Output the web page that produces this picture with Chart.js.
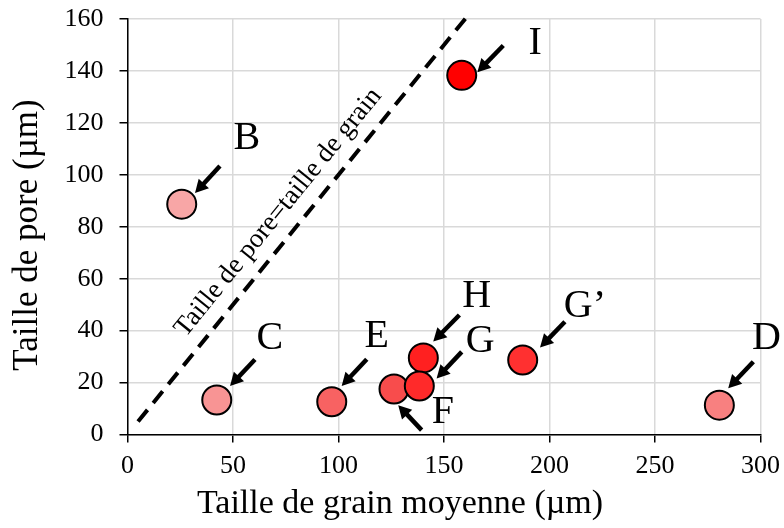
<!DOCTYPE html>
<html>
<head>
<meta charset="utf-8">
<script src="https://cdn.jsdelivr.net/npm/chart.js@4"></script>
<style>
  html, body { margin: 0; padding: 0; background: #ffffff; }
  #wrap { width: 784px; height: 528px; }
</style>
</head>
<body>
<div id="wrap"><canvas id="c" width="784" height="528"></canvas></div>
<script>
// ---- Data ----
const sampleLabels = ['B', 'C', 'E', 'F', 'H', 'G', 'G\u2019', 'D', 'I'];
const grainSize    = [25.7, 42.3, 96.8, 126.3, 140.2, 138.3, 187.3, 280.5, 158.4];
const poreSize     = [88.7, 13.3, 12.6, 17.5, 29.5, 18.7, 28.7, 11.3, 138.3];
const pointFill    = ['#F8A6A6', '#F89494', '#F86262', '#F84C4C', '#FF2020', '#FF2A2A', '#FF3030', '#F88080', '#FF0000'];

// equality line: taille de pore = taille de grain
const diagX = [5, 162];
const diagY = [5, 162];
const diagText = 'Taille de pore=taille de grain';
const diagTextPos = [71.5, 85.5];

// annotation arrows (data units): label position, arrow tail, arrow tip
const labelX = [56.5, 67.5, 118.1, 149.5, 165.5, 167.1, 216.8, 302.8, 193.2];
const labelY = [113.9, 37.0, 37.6, 8.5, 53.0, 35.7, 49.2, 37.0, 150.6];
const tailX  = [43.8, 60.4, 113.4, 139.4, 157.3, 158.4, 207.3, 296.6, 178.1];
const tailY  = [103.4, 28.9, 29.0, 1.7, 46.0, 31.8, 43.4, 28.0, 149.8];
const tipX   = [32.0, 48.6, 101.5, 128.3, 144.9, 146.5, 195.5, 284.7, 165.8];
const tipY   = [93.0, 18.7, 18.7, 11.3, 35.8, 21.6, 33.5, 17.8, 139.5];

const xTitle = 'Taille de grain moyenne (\u00b5m)';
const yTitle = 'Taille de pore (\u00b5m)';

const FONT = "'Liberation Serif', 'Times New Roman', serif";

const annotPlugin = {
  id: 'annot',
  afterDraw(chart) {
    const ctx = chart.ctx;
    const xs = chart.scales.x, ys = chart.scales.y;
    ctx.save();
    // arrows
    for (let i = 0; i < sampleLabels.length; i++) {
      const x0 = xs.getPixelForValue(tailX[i]), y0 = ys.getPixelForValue(tailY[i]);
      const x1 = xs.getPixelForValue(tipX[i]),  y1 = ys.getPixelForValue(tipY[i]);
      const ang = Math.atan2(y1 - y0, x1 - x0);
      const hl = 13, hw = 7;
      const bx = x1 - hl * Math.cos(ang), by = y1 - hl * Math.sin(ang);
      ctx.strokeStyle = '#000';
      ctx.lineWidth = 4.5;
      ctx.lineCap = 'butt';
      ctx.beginPath();
      ctx.moveTo(x0, y0);
      ctx.lineTo(bx + 1 * Math.cos(ang), by + 1 * Math.sin(ang));
      ctx.stroke();
      ctx.fillStyle = '#000';
      ctx.beginPath();
      ctx.moveTo(x1, y1);
      ctx.lineTo(bx + hw * Math.sin(ang), by - hw * Math.cos(ang));
      ctx.lineTo(bx - hw * Math.sin(ang), by + hw * Math.cos(ang));
      ctx.closePath();
      ctx.fill();
      // label
      ctx.font = '40px ' + FONT;
      ctx.textAlign = 'center';
      ctx.textBaseline = 'middle';
      ctx.fillText(sampleLabels[i], xs.getPixelForValue(labelX[i]), ys.getPixelForValue(labelY[i]));
    }
    // axis titles (placed like the reference)
    ctx.font = '34px ' + FONT;
    ctx.textAlign = 'center';
    ctx.textBaseline = 'middle';
    ctx.fillStyle = '#000';
    ctx.fillText(xTitle, chart.width / 2 + 8, chart.height - 24);
    ctx.save();
    ctx.translate(28, 235);
    ctx.rotate(-Math.PI / 2);
    ctx.font = '35px ' + FONT;
    ctx.fillText(yTitle, 0, 0);
    ctx.restore();
    // diagonal text
    const ax = xs.getPixelForValue(diagX[0]), ay = ys.getPixelForValue(diagY[0]);
    const bx2 = xs.getPixelForValue(diagX[1]), by2 = ys.getPixelForValue(diagY[1]);
    const rot = Math.atan2(by2 - ay, bx2 - ax);
    ctx.translate(xs.getPixelForValue(diagTextPos[0]), ys.getPixelForValue(diagTextPos[1]));
    ctx.rotate(rot);
    ctx.font = '27px ' + FONT;
    ctx.fillText(diagText, 0, 0);
    ctx.restore();
  }
};

new Chart(document.getElementById('c'), {
  type: 'scatter',
  data: {
    datasets: [
      {
        type: 'line',
        data: diagX.map((x, i) => ({ x: x, y: diagY[i] })),
        borderColor: '#000',
        borderWidth: 4,
        borderDash: [15, 9],
        pointRadius: 0,
        fill: false,
        clip: false,
        order: 2
      },
      {
        data: grainSize.map((x, i) => ({ x: x, y: poreSize[i] })),
        backgroundColor: pointFill,
        borderColor: '#000',
        borderWidth: 2,
        pointRadius: 14.5,
        pointHoverRadius: 14.5,
        order: 1
      }
    ]
  },
  options: {
    responsive: false,
    devicePixelRatio: 1,
    animation: false,
    events: [],
    layout: { padding: { top: 19, right: 23.5, left: 0, bottom: 0 } },
    plugins: { legend: { display: false }, tooltip: { enabled: false } },
    scales: {
      x: {
        type: 'linear',
        min: 0, max: 300,
        afterFit(s) { s.height = 93.5; s.paddingLeft = 0; s.paddingRight = 0; },
        ticks: { stepSize: 50, color: '#000', font: { family: FONT, size: 26 }, padding: 8, maxRotation: 0 },
        grid: { color: '#d9d9d9', lineWidth: 1.5, tickColor: '#000', tickLength: 8, tickWidth: 1.5 },
        border: { color: '#000', width: 1.5 },
        title: { display: false }
      },
      y: {
        type: 'linear',
        min: 0, max: 160,
        afterFit(s) { s.width = 127.5; s.paddingTop = 0; s.paddingBottom = 0; },
        ticks: { stepSize: 20, color: '#000', font: { family: FONT, size: 26 }, padding: 16 },
        grid: { color: '#d9d9d9', lineWidth: 1.5, tickColor: '#000', tickLength: 8, tickWidth: 1.5 },
        border: { color: '#000', width: 1.5 },
        title: { display: false }
      }
    }
  },
  plugins: [annotPlugin]
});
</script>
</body>
</html>
